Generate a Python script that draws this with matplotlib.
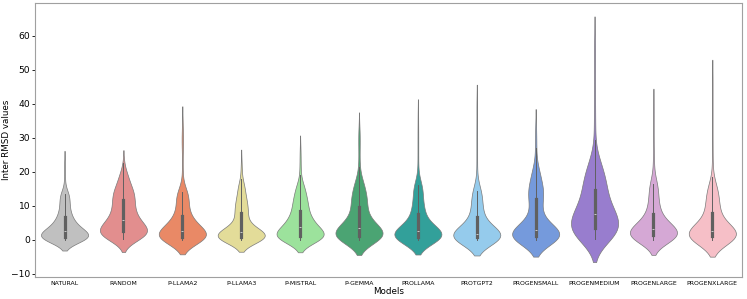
import numpy as np
import pandas as pd
import matplotlib
matplotlib.use("Agg")
import matplotlib.pyplot as plt
import seaborn as sns

# models shown on the x axis
models = ['NATURAL', 'RANDOM', 'P-LLAMA2', 'P-LLAMA3', 'P-MISTRAL', 'P-GEMMA',
          'PROLLAMA', 'PROTGPT2', 'PROGENSMALL', 'PROGENMEDIUM', 'PROGENLARGE',
          'PROGENXLARGE']

colors = ['silver', 'lightcoral', 'coral', 'khaki', 'lightgreen', 'mediumseagreen',
          'lightseagreen', 'lightskyblue', 'cornflowerblue', 'mediumpurple',
          'plum', 'lightpink']

# inter RMSD values: 20 quantiles (2.5%..97.5%) per model
natural = [0.05, 0.2, 0.35, 0.5, 0.65, 0.85, 1.1, 1.4, 1.8, 2.2,
           2.7, 3.2, 3.8, 4.6, 5.5, 6.6, 8.0, 9.8, 11.8, 13.5]
random_ = [0.3, 0.8, 1.3, 1.7, 2.1, 2.5, 3.0, 3.6, 4.2, 4.9,
           5.8, 6.8, 7.9, 9.2, 10.6, 11.8, 13.1, 14.4, 15.8, 18.5]
p_llama2 = [0.05, 0.2, 0.35, 0.5, 0.65, 0.85, 1.1, 1.4, 1.8, 2.2,
            2.7, 3.3, 4.0, 4.8, 5.8, 7.0, 8.6, 10.8, 12.5, 14.0]
p_llama3 = [0.05, 0.2, 0.35, 0.5, 0.65, 0.85, 1.05, 1.3, 1.6, 1.9,
            2.2, 2.9, 3.7, 4.6, 6.6, 8.0, 9.4, 11.0, 12.8, 15.5]
p_mistral = [0.05, 0.25, 0.45, 0.65, 0.9, 1.2, 1.5, 1.9, 2.4, 3.0,
             3.7, 4.4, 5.2, 6.1, 7.1, 8.6, 10.0, 11.5, 13.2, 15.5]
p_gemma = [0.05, 0.25, 0.45, 0.7, 0.95, 1.25, 1.6, 2.0, 2.5, 3.0,
           3.6, 4.3, 5.1, 6.3, 8.0, 9.6, 11.3, 12.8, 14.5, 17.0]
prollama = [0.05, 0.2, 0.35, 0.5, 0.7, 0.9, 1.15, 1.45, 1.8, 2.2,
            2.6, 3.1, 3.7, 4.5, 6.0, 7.6, 9.2, 11.2, 13.8, 16.0]
protgpt2 = [0.05, 0.15, 0.3, 0.45, 0.6, 0.75, 0.9, 1.1, 1.3, 1.5,
            1.8, 2.3, 3.0, 3.9, 5.0, 6.6, 8.3, 10.3, 12.5, 14.5]
progensmall = [0.05, 0.2, 0.4, 0.6, 0.8, 1.05, 1.35, 1.7, 2.1, 2.5,
               3.0, 3.7, 5.0, 7.0, 9.5, 12.0, 13.5, 15.0, 17.0, 20.0]
progenmedium = [0.2, 0.8, 1.5, 2.2, 2.9, 3.6, 4.3, 5.0, 5.8, 6.7,
                7.6, 8.6, 9.8, 11.2, 12.8, 14.8, 16.5, 18.0, 20.0, 23.0]
progenlarge = [0.05, 0.3, 0.55, 0.8, 1.05, 1.3, 1.6, 1.9, 2.3, 2.7,
               3.1, 3.6, 4.2, 5.0, 6.0, 7.5, 9.3, 11.5, 14.0, 16.5]
progenxlarge = [0.05, 0.2, 0.4, 0.6, 0.8, 1.0, 1.25, 1.55, 1.9, 2.2,
                2.6, 3.1, 3.8, 4.6, 6.3, 8.0, 9.6, 11.5, 13.5, 15.5]

# sparse extreme values in the upper tails
tails = [
    [15.5, 17.5, 19.5, 21.5, 23.0],
    [20.0, 21.5, 22.5],
    [14.2, 16.5, 19.0, 22.0, 25.0, 28.0, 29.0, 30.0, 32.0, 35.0],
    [16.5, 18.0, 19.5, 21.0, 23.0],
    [17.2, 19.0, 20.5, 22.5, 24.5, 27.0],
    [20.0, 21.5, 23.5, 26.0, 28.0, 29.5, 31.0, 33.0],
    [15.2, 18.5, 21.0, 24.0, 27.0, 30.0, 33.0, 37.0],
    [13.8, 16.5, 19.0, 22.0, 25.0, 28.0, 31.0, 34.0, 38.0, 41.0],
    [22.5, 25.2, 27.0, 29.0, 31.0, 33.5],
    [26.0, 29.4, 32.0, 35.0, 38.0, 42.0, 46.0, 51.0, 55.0, 59.0],
    [18.5, 20.5, 22.0, 24.0, 27.0, 31.0, 35.5, 40.0],
    [16.4, 18.5, 21.0, 24.0, 28.0, 33.0, 38.0, 43.0, 48.0],
]

bodies = [natural, random_, p_llama2, p_llama3, p_mistral, p_gemma, prollama,
          protgpt2, progensmall, progenmedium, progenlarge, progenxlarge]

rows = []
for name, body, tail in zip(models, bodies, tails):
    vals = np.concatenate([np.repeat(body, 10), tail])
    rows.append(pd.DataFrame({'Models': name, 'value': vals}))
df = pd.concat(rows, ignore_index=True)

fig = plt.figure(figsize=(7.47, 2.99), dpi=100)
ax = fig.add_axes([0.047, 0.074, 0.946, 0.915])

sns.violinplot(data=df, x='Models', y='value', order=models,
               hue='Models', hue_order=models, palette=colors, legend=False,
               density_norm='width', inner='box', linewidth=0.5,
               linecolor='#7a7a7a', bw_adjust=1.15, cut=1.75,
               inner_kws=dict(box_width=2.3, whis_width=0.7, color='#606060'),
               ax=ax)

ax.set_ylim(-10.9, 69.6)
ax.set_xlim(-0.5, len(models) - 0.5)
ax.set_xlabel('Models', fontsize=6.3, labelpad=1)
ax.set_ylabel('Inter RMSD values', fontsize=6.3)
ax.yaxis.set_label_coords(-0.034, 0.5)
ax.tick_params(axis='y', labelsize=6.6, length=2, width=0.6, pad=1.5)
ax.tick_params(axis='x', labelsize=4.4, length=0, pad=3)
for s in ax.spines.values():
    s.set_color('#a0a0a0')
    s.set_linewidth(0.8)

plt.savefig('out.png', dpi=100)
